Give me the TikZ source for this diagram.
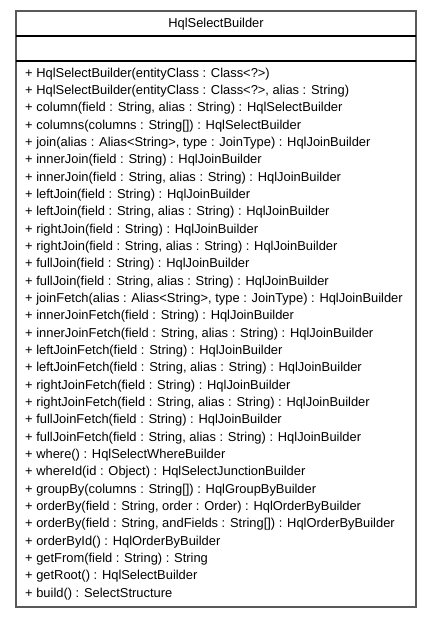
\documentclass[tikz,border=0pt]{standalone}
\usepackage{fontspec}
\setmainfont{Liberation Sans}
\usepackage{tikz}

\tikzset{member/.style={anchor=base west,inner sep=0pt,font=\fontsize{12.9}{13}\selectfont}}

\begin{document}
\begin{tikzpicture}[x=1pt,y=-1pt]
  \useasboundingbox (0,0) rectangle (432,617);
  \draw[line width=1.6pt,black!65] (16,11) rectangle (416,607);
  \draw[line width=1.2pt] (16,36) -- (416,36);
  \draw[line width=1.2pt] (16,61) -- (416,61);
  \node[member,anchor=base] (title) at (216,28) {HqlSelectBuilder};
  \foreach \txt [count=\i] in {%
    {+ HqlSelectBuilder(entityClass : Class<?>)},
    {+ HqlSelectBuilder(entityClass : Class<?>, alias : String)},
    {+ column(field : String, alias : String) : HqlSelectBuilder},
    {+ columns(columns : String[]) : HqlSelectBuilder},
    {+ join(alias : Alias<String>, type : JoinType) : HqlJoinBuilder},
    {+ innerJoin(field : String) : HqlJoinBuilder},
    {+ innerJoin(field : String, alias : String) : HqlJoinBuilder},
    {+ leftJoin(field : String) : HqlJoinBuilder},
    {+ leftJoin(field : String, alias : String) : HqlJoinBuilder},
    {+ rightJoin(field : String) : HqlJoinBuilder},
    {+ rightJoin(field : String, alias : String) : HqlJoinBuilder},
    {+ fullJoin(field : String) : HqlJoinBuilder},
    {+ fullJoin(field : String, alias : String) : HqlJoinBuilder},
    {+ joinFetch(alias : Alias<String>, type : JoinType) : HqlJoinBuilder},
    {+ innerJoinFetch(field : String) : HqlJoinBuilder},
    {+ innerJoinFetch(field : String, alias : String) : HqlJoinBuilder},
    {+ leftJoinFetch(field : String) : HqlJoinBuilder},
    {+ leftJoinFetch(field : String, alias : String) : HqlJoinBuilder},
    {+ rightJoinFetch(field : String) : HqlJoinBuilder},
    {+ rightJoinFetch(field : String, alias : String) : HqlJoinBuilder},
    {+ fullJoinFetch(field : String) : HqlJoinBuilder},
    {+ fullJoinFetch(field : String, alias : String) : HqlJoinBuilder},
    {+ where() : HqlSelectWhereBuilder},
    {+ whereId(id : Object) : HqlSelectJunctionBuilder},
    {+ groupBy(columns : String[]) : HqlGroupByBuilder},
    {+ orderBy(field : String, order : Order) : HqlOrderByBuilder},
    {+ orderBy(field : String, andFields : String[]) : HqlOrderByBuilder},
    {+ orderById() : HqlOrderByBuilder},
    {+ getFrom(field : String) : String},
    {+ getRoot() : HqlSelectBuilder},
    {+ build() : SelectStructure}}
    \node[member] (m\i) at (25,{60+17.33*\i}) {\txt};
\end{tikzpicture}
\end{document}
